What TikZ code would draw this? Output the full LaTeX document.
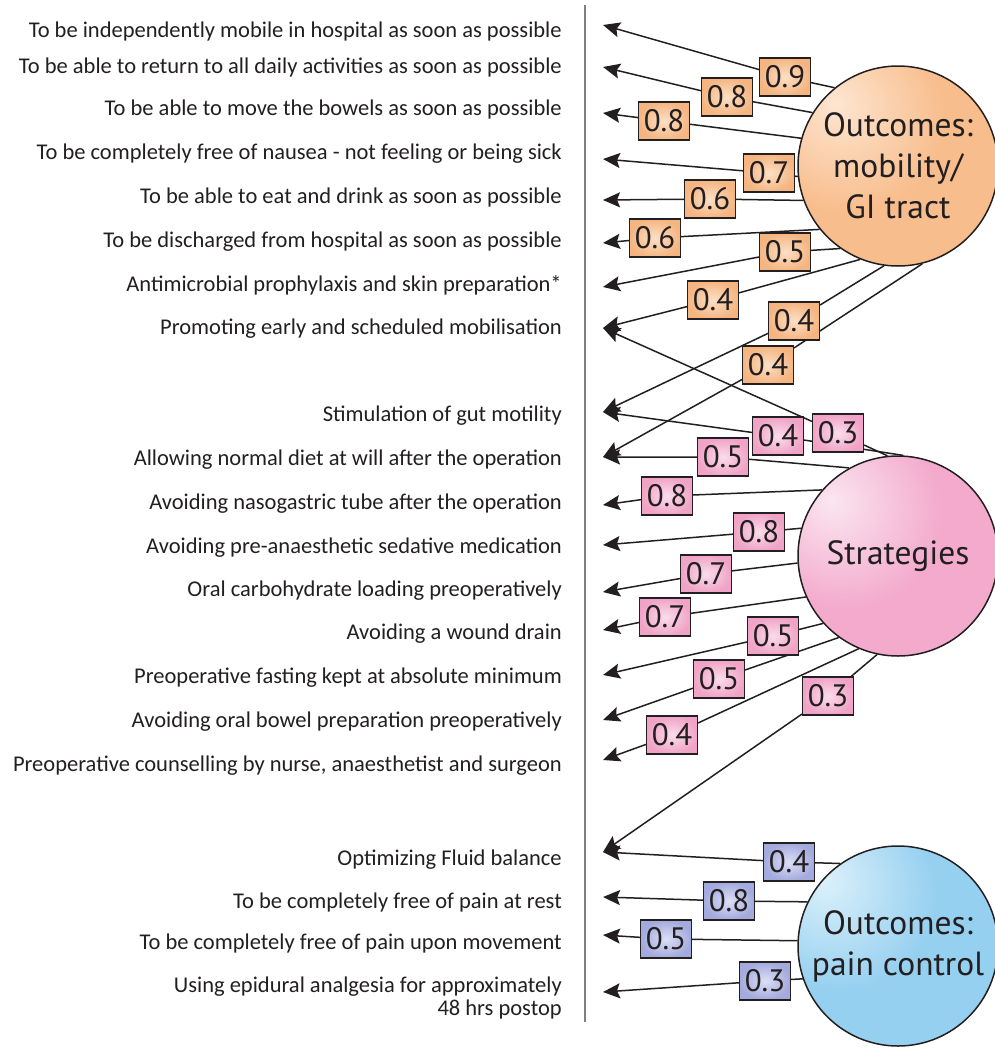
\documentclass[tikz,border=0pt]{standalone}
\usepackage{fontspec}
\setmainfont{Carlito}
\newfontfamily\myr{PT Sans}
\usetikzlibrary{arrows.meta,backgrounds}
\definecolor{orbase}{HTML}{F8BD8C}
\definecolor{orlight}{HTML}{FDE6D2}
\definecolor{orbox}{HTML}{F5B581}
\definecolor{orboxl}{HTML}{FCE0C6}
\definecolor{pkbase}{HTML}{F3AACD}
\definecolor{pklight}{HTML}{FBE6F0}
\definecolor{pkbox}{HTML}{F0A3C6}
\definecolor{pkboxl}{HTML}{FADDEB}
\definecolor{blbase}{HTML}{96D0F0}
\definecolor{bllight}{HTML}{DDF1FB}
\definecolor{blbox}{HTML}{A3AADD}
\definecolor{blboxl}{HTML}{DCDFF5}
\definecolor{ink}{HTML}{231F20}
\pgfdeclareradialshading{orball}{\pgfpoint{-16bp}{16bp}}{color(0bp)=(orlight); color(24bp)=(orbase); color(100bp)=(orbase)}
\pgfdeclareradialshading{pkball}{\pgfpoint{-17bp}{14bp}}{color(0bp)=(pklight); color(24bp)=(pkbase); color(100bp)=(pkbase)}
\pgfdeclareradialshading{blball}{\pgfpoint{-19bp}{17bp}}{color(0bp)=(bllight); color(24bp)=(blbase); color(100bp)=(blbase)}
\tikzset{
  txt/.style={anchor=base east, inner sep=0pt, text=ink, font=\fontsize{22.5}{23}\selectfont},
  ball/.style={circle, draw=ink, line width=1.5pt, minimum size=200pt, inner sep=0pt,
    align=center, text=ink, font=\myr\fontsize{33.5}{41}\selectfont},
  lbl/.style={draw=ink, line width=1.1pt, minimum width=51pt, minimum height=38pt,
    inner sep=0pt, text=ink, font=\myr\fontsize{31}{31}\selectfont},
  lo/.style={lbl, inner color=orboxl, outer color=orbox},
  lp/.style={lbl, inner color=pkboxl, outer color=pkbox},
  lb/.style={lbl, inner color=blboxl, outer color=blbox},
  tipstyle/.tip={Stealth[length=17pt,width=15pt,inset=3pt,fill=ink]},
  conn/.style={draw=ink, line width=1.5pt, arrows={-tipstyle}},
  axis/.style={draw=black!50, line width=1.4pt}
}
\begin{document}
\begin{tikzpicture}[x=1pt,y=-1pt]
\useasboundingbox (0,0) rectangle (995,1050);
% texts
\node[txt] (L1) at (562,37) {To be independently mobile in hospital as soon as possible};
\node[txt] (L2) at (562,73) {To be able to return to all daily activities as soon as possible};
\node[txt] (L3) at (562,115) {To be able to move the bowels as soon as possible};
\node[txt] (L4) at (562,159) {To be completely free of nausea - not feeling or being sick};
\node[txt] (L5) at (562,203) {To be able to eat and drink as soon as possible};
\node[txt] (L6) at (562,247) {To be discharged from hospital as soon as possible};
\node[txt] (L7) at (562,291) {Antimicrobial prophylaxis and skin preparation*};
\node[txt] (L8) at (562,334) {Promoting early and scheduled mobilisation};
\node[txt] (L9) at (562,421) {Stimulation of gut motility};
\node[txt] (L10) at (562,465) {Allowing normal diet at will after the operation};
\node[txt] (L11) at (562,509) {Avoiding nasogastric tube after the operation};
\node[txt] (L12) at (562,553) {Avoiding pre-anaesthetic sedative medication};
\node[txt] (L13) at (562,596) {Oral carbohydrate loading preoperatively};
\node[txt] (L14) at (562,639) {Avoiding a wound drain};
\node[txt] (L15) at (562,683) {Preoperative fasting kept at absolute minimum};
\node[txt] (L16) at (562,727) {Avoiding oral bowel preparation preoperatively};
\node[txt] (L17) at (562,771) {Preoperative counselling by nurse, anaesthetist and surgeon};
\node[txt] (L18) at (562,865) {Optimizing Fluid balance};
\node[txt] (L19) at (562,908) {To be completely free of pain at rest};
\node[txt] (L20) at (562,949) {To be completely free of pain upon movement};
\node[txt] (L21) at (562,992) {Using epidural analgesia for approximately};
\node[txt] (L21b) at (562,1015) {48 hrs postop};
% divider
\coordinate (vtop) at (585,5);
\coordinate (vbot) at (585,1022);
\draw[axis] (vtop) -- (vbot);
% arrow tips
\foreach \i/\y in {1/25,2/67,3/113,4/159,5/200,6/243,7/287,8/328,9/412,10/457,11/505,12/545,13/592,14/630,15/675,16/720,17/760,18/852,19/897,20/935,21/992}
  \coordinate (t\i) at (603,\y);
% circles
\node[ball, shade, shading=orball] (O1) at (898,166) {Outcomes:\\mobility/\\GI tract};
\node[ball, shade, shading=pkball] (O2) at (898,556) {Strategies};
\node[ball, shade, shading=blball] (O3) at (898,946) {Outcomes:\\pain control};
% labels
\node[lo] (a1) at (785,77) {0.9};
\node[lo] (a2) at (727,97) {0.8};
\node[lo] (a3) at (664,121) {0.8};
\node[lo] (a4) at (769,173) {0.7};
\node[lo] (a5) at (710,199) {0.6};
\node[lo] (a6) at (655,238) {0.6};
\node[lo] (a7) at (785,252) {0.5};
\node[lo] (a8) at (713,300) {0.4};
\node[lo] (a9) at (794,321) {0.4};
\node[lo] (a10) at (768,365) {0.4};
\node[lp] (p1) at (838,433) {0.3};
\node[lp] (p2) at (778,436) {0.4};
\node[lp] (p3) at (723,457) {0.5};
\node[lp] (p4) at (667,496) {0.8};
\node[lp] (p5) at (759,532) {0.8};
\node[lp] (p6) at (706,574) {0.7};
\node[lp] (p7) at (665,617) {0.7};
\node[lp] (p8) at (773,636) {0.5};
\node[lp] (p9) at (719,679) {0.5};
\node[lp] (p10) at (672,735) {0.4};
\node[lp] (p11) at (828,696) {0.3};
\node[lb] (b1) at (789,862) {0.4};
\node[lb] (b2) at (729,901) {0.8};
\node[lb] (b3) at (666,939) {0.5};
\node[lb] (b4) at (765,981) {0.3};
% connectors
\begin{scope}[on background layer]
\draw[conn] (O1.129) -- (a1) -- (t1);
\draw[conn] (O1.148) -- (a2) -- (t2);
\draw[conn] (O1.164) -- (a3) -- (t3);
\draw[conn] (O1.186) -- (a4) -- (t4);
\draw[conn] (O1.200) -- (a5) -- (t5);
\draw[conn] (O1.219) -- (a6) -- (t6);
\draw[conn] (O1.235) -- (a7) -- (t7);
\draw[conn] (O1.248) -- (a8) -- (t8);
\draw[conn] (O1.262) -- (a9) -- (t9);
\draw[conn] (O1.284) -- (a10) -- (t10);
\draw[conn] (O2.96) -- (p1) -- (t8);
\draw[conn] (O2.87) -- (p2) -- (t9);
\draw[conn] (O2.119) -- (p3) -- (t10);
\draw[conn] (O2.139) -- (p4) -- (t11);
\draw[conn] (O2.164) -- (p5) -- (t12);
\draw[conn] (O2.184) -- (p6) -- (t13);
\draw[conn] (O2.204) -- (p7) -- (t14);
\draw[conn] (O2.222) -- (p8) -- (t15);
\draw[conn] (O2.234) -- (p9) -- (t16);
\draw[conn] (O2.247) -- (p10) -- (t17);
\draw[conn] (O2.258) -- (p11) -- (t18);
\draw[conn] (O3.125) -- (b1) -- (t18);
\draw[conn] (O3.154) -- (b2) -- (t19);
\draw[conn] (O3.177) -- (b3) -- (t20);
\draw[conn] (O3.199) -- (b4) -- (t21);
\end{scope}
\end{tikzpicture}
\end{document}
